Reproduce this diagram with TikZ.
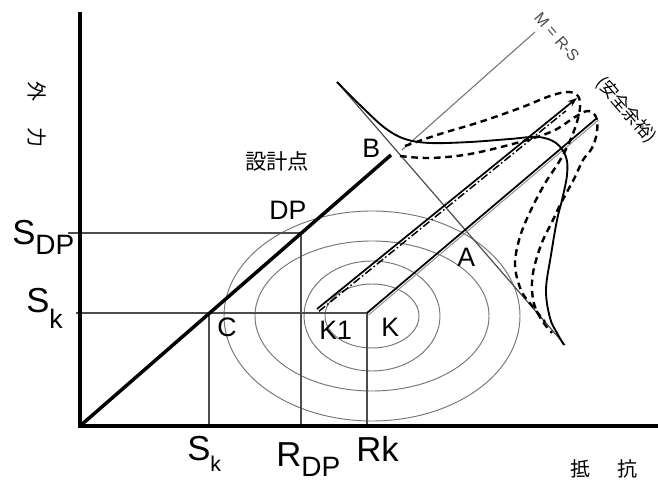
\documentclass[tikz,border=0pt]{standalone}
\usepackage{fontspec}
\setmainfont{Liberation Sans}
\newfontfamily\cjk{Noto Sans CJK JP}
\usetikzlibrary{arrows.meta,calc}
\tikzset{
  axis/.style={line width=3pt,line join=miter},
  limit/.style={line width=2.6pt},
  guide/.style={draw=black!70,line width=0.8pt},
  ring/.style={draw=black!55,line width=0.7pt},
  ray/.style={line width=1.3pt},
  density/.style={line width=1.4pt},
  dashdensity/.style={line width=1.8pt,dash pattern=on 5pt off 3.5pt},
  ptlabel/.style={anchor=base west,inner sep=0pt,font=\fontsize{20}{20}\selectfont},
  axlabel/.style={anchor=base west,inner sep=0pt,font=\fontsize{26}{26}\selectfont},
  jlabel/.style={inner sep=0pt,font=\cjk\fontsize{15}{15}\selectfont},
}
\newcommand{\lowsub}[3]{\raisebox{-#1}{\fontsize{#2}{#2}\selectfont #3}}
\begin{document}
\begin{tikzpicture}[x=0.75pt,y=-0.75pt]
  \useasboundingbox (0,0) rectangle (658,484);
  % key points
  \coordinate (O) at (80,426);
  \coordinate (C) at (209,313);
  \coordinate (DP) at (301,233);
  \coordinate (Tip) at (391,155);
  \coordinate (K) at (367,313);
  \coordinate (K1) at (317,309);
  \coordinate (K1end) at (577,98);
  \coordinate (Kend) at (597,118);
  \coordinate (ctr) at (372,316);
  \coordinate (Mbot) at (402,150);
  \coordinate (Mtop) at (535,32);
  \coordinate (Ltop) at (337,82);
  \coordinate (Lbot) at (565,345);
  \coordinate (sdpTick) at (68,233);
  \coordinate (skTick) at (76,313);
  % contour rings round K
  \foreach \rx/\ry in {47/32,68/55,117/75,148/105}
    \draw[ring] (ctr) ellipse [x radius=\rx*0.75pt, y radius=\ry*0.75pt];
  % guide lines to the axes
  \draw[guide] (sdpTick) -- (DP) -- (DP |- O);
  \draw[guide] (skTick) -- (K) -- (K |- O);
  \draw[guide] (C) -- (C |- O);
  % axes and limit line R = S
  \draw[axis] (80,12) -- (O) -- (658,426);
  \draw[limit] (O) -- (Tip);
  % M axis and the tangent through A and B
  \draw[black!55,line width=0.8pt] (Mbot) -- (Mtop);
  \draw[guide,line width=0.9pt] (Ltop) -- (Lbot);
  % rays from K1 and K
  \draw[ray,-{Stealth[length=7pt,width=5pt]}] (K1) -- (K1end);
  \draw[line width=1.1pt,dash pattern=on 6pt off 2pt on 1.2pt off 2pt]
    ($(K1)+(1.9,2.3)$) -- ($(K1)!0.95!(K1end)+(1.9,2.3)$);
  \draw[ray] (K) -- (Kend);
  \draw[black!45,line width=0.7pt] ($(K)+(1.6,1.9)$) -- ($(Kend)+(1.6,1.9)$);
  % density curves
  \draw[density] plot[smooth,tension=0.6] coordinates {(337,82) (362,107) (385,128)
    (405,139) (430,143) (470,142) (510,139) (538,137) (556,143) (566,157) (567,175)
    (562,200) (557,220) (551,255) (546,290) (550,318) (557,333) (564,345)};
  \draw[dashdensity] plot[smooth,tension=0.6] coordinates {(405,146) (440,134) (480,122)
    (520,108) (550,96) (568,92) (578,96) (580,108) (576,125) (569,143) (559,162)
    (547,180) (538,196) (530,212) (523,228) (518,244) (515,262) (517,278) (523,294)
    (533,307) (545,322)};
  \draw[dashdensity] plot[smooth,tension=0.6] coordinates {(400,156) (430,158) (470,154)
    (520,142) (553,131) (575,117) (588,111) (596,117) (597,132) (592,148) (583,160)
    (575,177) (567,192) (559,207) (552,222) (543,240) (537,257) (533,273) (532,290)
    (535,307) (543,322) (552,333)};
  % point labels
  \node[ptlabel] (labB) at (362,158) {B};
  \node[ptlabel] (labA) at (457,267) {A};
  \node[ptlabel] (labDP) at (269,220) {DP};
  \node[ptlabel] (labC) at (217,337) {C};
  \node[ptlabel] (labK1) at (319,340) {K1};
  \node[ptlabel] (labK) at (381,337) {K};
  % axis values
  \node[axlabel] (labSkb) at (187,461) {S\lowsub{8pt}{16}{k}};
  \node[axlabel] (labRdp) at (276,467) {R\lowsub{7.5pt}{21}{DP}};
  \node[axlabel] (labRk) at (356,462) {Rk};
  \node[axlabel] (labSdp) at (12,245) {S\lowsub{7.5pt}{21}{DP}};
  \node[axlabel] (labSkl) at (26,313) {S\lowsub{12pt}{20}{k}};
  % japanese texts
  \node[jlabel,font=\cjk\fontsize{16}{16}\selectfont] (design) at (277,161) {設計点};
  \node[jlabel] (resist) at (604,469) {抵\hspace{20pt}抗};
  \node[jlabel,rotate=-90] (ext1) at (37,92) {外};
  \node[jlabel,rotate=-90] (ext2) at (37,138) {力};
  \node[jlabel,font=\cjk\fontsize{13}{13}\selectfont,rotate=-49] (margin) at (626,110) {(安全余裕)};
  \node[inner sep=0pt,text=black!70,font=\fontsize{12}{12}\selectfont,rotate=-49] (mlab) at (557,37) {M = R-S};
\end{tikzpicture}
\end{document}
